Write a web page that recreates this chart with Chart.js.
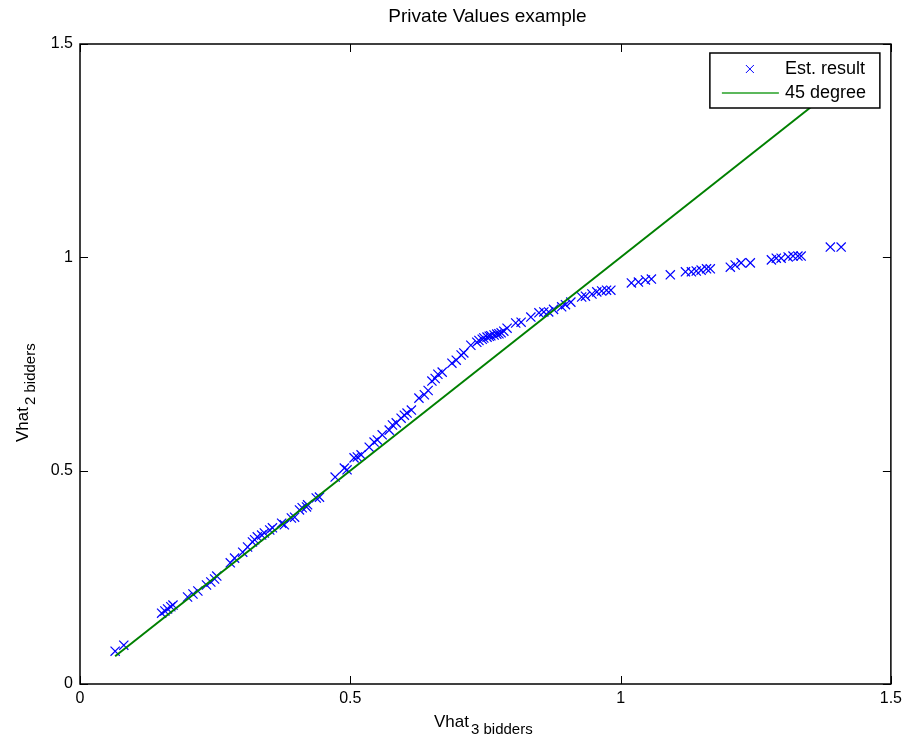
<!DOCTYPE html>
<html>
<head>
<meta charset="utf-8">
<script src="https://cdn.jsdelivr.net/npm/chart.js@4"></script>
<style>
  html, body { margin: 0; padding: 0; background: #fff; }
</style>
</head>
<body>
<canvas id="chart-vhat" width="907" height="737"></canvas>
<script>
// estimated values, 3 bidders (x) vs 2 bidders (y)
const VHAT3 = [
  0.065, 0.081, 0.151, 0.157, 0.162, 0.168, 0.172, 0.199, 0.209, 0.218,
  0.234, 0.242, 0.249, 0.253, 0.278, 0.286, 0.301, 0.310, 0.319, 0.323,
  0.328, 0.336, 0.341, 0.351, 0.356, 0.373, 0.378, 0.391, 0.397, 0.406,
  0.411, 0.419, 0.421, 0.437, 0.443, 0.472, 0.489, 0.494, 0.507, 0.513,
  0.520, 0.535, 0.544, 0.550, 0.559, 0.572, 0.578, 0.585, 0.594, 0.600,
  0.605, 0.613, 0.627, 0.637, 0.644, 0.651, 0.657, 0.662, 0.670, 0.688,
  0.696, 0.705, 0.710, 0.723, 0.734, 0.738, 0.744, 0.747, 0.753, 0.757,
  0.760, 0.766, 0.771, 0.775, 0.779, 0.784, 0.790, 0.806, 0.816, 0.834,
  0.849, 0.858, 0.867, 0.876, 0.891, 0.898, 0.908, 0.928, 0.935, 0.947,
  0.956, 0.965, 0.974, 0.982, 1.020, 1.033, 1.046, 1.057, 1.092, 1.120,
  1.131, 1.140, 1.149, 1.159, 1.166, 1.203, 1.212, 1.223, 1.240, 1.279,
  1.288, 1.297, 1.310, 1.319, 1.328, 1.334, 1.388, 1.408,
];
const VHAT2 = [
  0.077, 0.091, 0.166, 0.171, 0.176, 0.181, 0.185, 0.204, 0.211, 0.218,
  0.232, 0.239, 0.246, 0.253, 0.284, 0.295, 0.309, 0.321, 0.333, 0.338,
  0.345, 0.349, 0.354, 0.361, 0.366, 0.377, 0.373, 0.389, 0.391, 0.408,
  0.413, 0.415, 0.420, 0.436, 0.438, 0.485, 0.506, 0.502, 0.530, 0.532,
  0.537, 0.555, 0.567, 0.572, 0.584, 0.595, 0.607, 0.612, 0.623, 0.630,
  0.635, 0.642, 0.670, 0.678, 0.688, 0.710, 0.716, 0.726, 0.731, 0.752,
  0.759, 0.771, 0.776, 0.794, 0.801, 0.805, 0.808, 0.811, 0.813, 0.815,
  0.816, 0.818, 0.820, 0.821, 0.823, 0.827, 0.834, 0.846, 0.848, 0.860,
  0.870, 0.872, 0.872, 0.878, 0.884, 0.889, 0.895, 0.907, 0.909, 0.914,
  0.919, 0.921, 0.923, 0.923, 0.940, 0.942, 0.947, 0.949, 0.959, 0.966,
  0.966, 0.968, 0.970, 0.973, 0.973, 0.977, 0.982, 0.987, 0.987, 0.994,
  0.998, 0.998, 1.001, 1.003, 1.003, 1.003, 1.024, 1.024,
];
// 45 degree reference line end points
const LINE_X = [0.065, 1.408];
const LINE_Y = [0.065, 1.408];

const TICK_VALUES = [0, 0.5, 1, 1.5];
const TICK_LABELS = ['0', '0.5', '1', '1.5'];

const SERIES_LABELS = ['Est. result', '45 degree'];
const TITLE = 'Private Values example';

//options
const MARK_COLOR = '#0000ff';
const LINE_COLOR = '#008000';
const FONT = '"Liberation Sans", Arial, Helvetica, sans-serif';
const TICK_LEN = 8;

const frame = {
  id: 'frame',
  afterDraw(chart) {
    const { ctx, chartArea: a, scales: { x, y } } = chart;
    ctx.save();
    ctx.strokeStyle = '#000';
    ctx.lineWidth = 1.5;
    ctx.strokeRect(a.left, a.top, a.right - a.left, a.bottom - a.top);
    ctx.lineWidth = 1;
    ctx.beginPath();
    TICK_VALUES.forEach((v) => {
      const px = Math.round(x.getPixelForValue(v)) + 0.5;
      const py = Math.round(y.getPixelForValue(v)) + 0.5;
      ctx.moveTo(px, a.bottom); ctx.lineTo(px, a.bottom - TICK_LEN);
      ctx.moveTo(px, a.top); ctx.lineTo(px, a.top + TICK_LEN);
      ctx.moveTo(a.left, py); ctx.lineTo(a.left + TICK_LEN, py);
      ctx.moveTo(a.right, py); ctx.lineTo(a.right - TICK_LEN, py);
    });
    ctx.stroke();

    // legend box inside top right
    const lx = a.right - 181, ly = a.top + 9, lw = 170, lh = 55;
    ctx.fillStyle = '#fff';
    ctx.fillRect(lx, ly, lw, lh);
    ctx.lineWidth = 1.5;
    ctx.strokeRect(lx, ly, lw, lh);
    ctx.lineWidth = 1;
    ctx.strokeStyle = MARK_COLOR;
    const mx = lx + 40, my = ly + 16, r = 4;
    ctx.beginPath();
    ctx.moveTo(mx - r, my - r); ctx.lineTo(mx + r, my + r);
    ctx.moveTo(mx - r, my + r); ctx.lineTo(mx + r, my - r);
    ctx.stroke();
    ctx.strokeStyle = '#5cb85c';
    ctx.lineWidth = 2;
    ctx.beginPath();
    ctx.moveTo(lx + 12, ly + 40); ctx.lineTo(lx + 69, ly + 40);
    ctx.stroke();
    ctx.fillStyle = '#000';
    ctx.font = '18px ' + FONT;
    ctx.textBaseline = 'middle';
    ctx.textAlign = 'left';
    ctx.fillText(SERIES_LABELS[0], lx + 75, my);
    ctx.fillText(SERIES_LABELS[1], lx + 75, ly + 40);

    // title
    ctx.textAlign = 'center';
    ctx.font = '19px ' + FONT;
    ctx.fillText(TITLE, (a.left + a.right) / 2 + 2, 17);

    // axis titles with subscripts
    ctx.textAlign = 'left';
    ctx.textBaseline = 'alphabetic';
    ctx.font = '17px ' + FONT;
    const w = ctx.measureText('Vhat').width;
    ctx.fillText('Vhat', 434, 727);
    ctx.font = '15px ' + FONT;
    ctx.fillText('3 bidders', 434 + w + 2, 734);

    ctx.translate(28, 442);
    ctx.rotate(-Math.PI / 2);
    ctx.font = '17px ' + FONT;
    ctx.fillText('Vhat', 0, 0);
    ctx.font = '15px ' + FONT;
    ctx.fillText('2 bidders', w + 2, 7);
    ctx.restore();
  },
};

const tickLabel = (value) => {
  const i = TICK_VALUES.indexOf(value);
  return i >= 0 ? TICK_LABELS[i] : '';
};

const chart = new Chart(document.getElementById('chart-vhat'), {
  type: 'scatter',
  data: {
    datasets: [
      {
        label: SERIES_LABELS[0],
        data: VHAT3.map((v, i) => ({ x: v, y: VHAT2[i] })),
        pointStyle: 'crossRot',
        pointRadius: 6.5,
        pointBorderWidth: 1.2,
        borderColor: MARK_COLOR,
        backgroundColor: MARK_COLOR,
        order: 1,
      },
      {
        label: SERIES_LABELS[1],
        data: LINE_X.map((v, i) => ({ x: v, y: LINE_Y[i] })),
        showLine: true,
        pointRadius: 0,
        borderColor: LINE_COLOR,
        borderWidth: 2,
        order: 0,
      },
    ],
  },
  options: {
    responsive: false,
    animation: false,
    events: [],
    layout: { padding: { top: 44, right: 14, left: 0, bottom: 0 } },
    scales: {
      x: {
        type: 'linear',
        min: 0,
        max: 1.5,
        afterFit: (s) => { s.height = 53; },
        afterBuildTicks: (s) => { s.ticks = TICK_VALUES.map((v) => ({ value: v })); },
        grid: { drawOnChartArea: false, drawTicks: false },
        border: { display: false },
        ticks: {
          autoSkip: false,
          maxRotation: 0,
          padding: 5,
          color: '#000',
          font: { family: FONT, size: 16 },
          callback: tickLabel,
        },
      },
      y: {
        type: 'linear',
        min: 0,
        max: 1.5,
        afterFit: (s) => { s.width = 80; },
        afterBuildTicks: (s) => { s.ticks = TICK_VALUES.map((v) => ({ value: v })); },
        grid: { drawOnChartArea: false, drawTicks: false },
        border: { display: false },
        ticks: {
          autoSkip: false,
          padding: 7,
          color: '#000',
          font: { family: FONT, size: 16 },
          callback: tickLabel,
        },
      },
    },
    plugins: {
      legend: { display: false },
      tooltip: { enabled: false },
    },
  },
  plugins: [frame],
});
</script>
</body>
</html>
